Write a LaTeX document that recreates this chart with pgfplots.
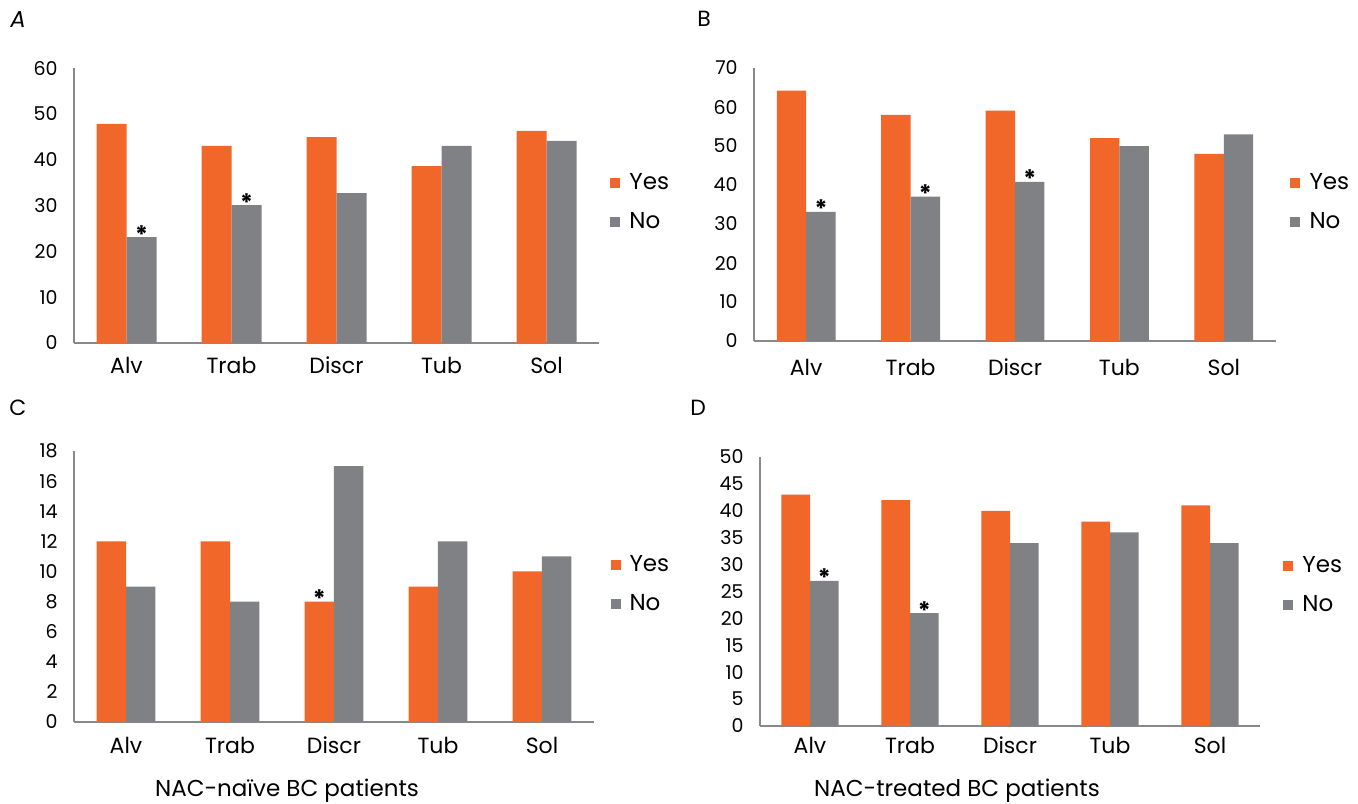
\documentclass[border=0pt]{standalone}
\usepackage{pgfplots}
\pgfplotsset{compat=1.18}
\usepackage{fontspec}
\setmainfont{Poppins}
\definecolor{yesc}{RGB}{241,103,41}
\definecolor{noc}{RGB}{128,129,133}
\definecolor{axc}{RGB}{137,137,140}
\pgfplotsset{
 sq/.style={legend image code/.code={\fill[##1] (0pt,-2.5pt) rectangle (5pt,2.5pt);}},
 panel/.style={
  scale only axis, anchor=south west,
  xmin=-0.5, xmax=4.5, ymin=0,
  axis x line*=bottom, axis y line*=left,
  axis line style={draw=axc, line width=1.2pt, -},
  major tick length=0pt,
  xtick={0,...,4}, xticklabels={Alv,Trab,Discr,Tub,Sol},
  ybar=0pt,
  xticklabel style={font=\fontsize{11}{13}\selectfont, anchor=base, inner sep=0pt},
  yticklabel style={font=\fontsize{9.5}{11}\selectfont, anchor=east, inner sep=0pt, xshift=-8pt},
  /pgf/number format/assume math mode=true,
  legend style={draw=none, fill=none, inner sep=0pt, font=\fontsize{11.5}{13}\selectfont, row sep=6pt, anchor=west, legend cell align=left, /tikz/every odd column/.append style={column sep=2.5pt}},
  nodes near coords, point meta=explicit symbolic,
  every node near coord/.append style={font=\fontsize{12}{14}\selectfont\bfseries, anchor=base, inner sep=0pt, yshift=-3pt, text=black},
  clip=false,
 },
}
\begin{document}
\begin{tikzpicture}
\path[use as bounding box] (0pt,0pt) rectangle (679pt,-401.5pt);
% Panel A
\begin{axis}[panel, at={(37pt,-171.5pt)}, width=262.5pt, height=137.5pt,
  ymax=60, ytick distance=10, bar width=15pt,
  xticklabel style={yshift=-15pt},
  legend style={at={(1.021,0.511)}}]
\addplot[fill=yesc, draw=none, sq] coordinates {(0,47.8)[] (1,43.0)[] (2,44.9)[] (3,38.6)[] (4,46.3)[]};
\addplot[fill=noc, draw=none, sq] coordinates {(0,23.1)[*] (1,30.1)[*] (2,32.7)[] (3,43.0)[] (4,44.1)[]};
\legend{Yes,No}
\end{axis}
% Panel B
\begin{axis}[panel, at={(377pt,-170.5pt)}, width=261pt, height=136.5pt,
  ymax=70, ytick distance=10, bar width=14.7pt,
  xticklabel style={yshift=-17pt},
  legend style={at={(1.027,0.509)}}]
\addplot[fill=yesc, draw=none, sq] coordinates {(0,64.2)[] (1,58.0)[] (2,59.1)[] (3,52.0)[] (4,48.0)[]};
\addplot[fill=noc, draw=none, sq] coordinates {(0,33.1)[*] (1,37.0)[*] (2,40.8)[*] (3,50.0)[] (4,53.0)[]};
\legend{Yes,No}
\end{axis}
% Panel C
\begin{axis}[panel, at={(37pt,-361pt)}, width=260pt, height=135.5pt,
  ymax=18, ytick distance=2, bar width=14.7pt,
  xticklabel style={yshift=-15.5pt},
  legend style={at={(1.031,0.509)}}]
\addplot[fill=yesc, draw=none, sq] coordinates {(0,12)[] (1,12)[] (2,8)[*] (3,9)[] (4,10)[]};
\addplot[fill=noc, draw=none, sq] coordinates {(0,9)[] (1,8)[] (2,17)[] (3,12)[] (4,11)[]};
\legend{Yes,No}
\end{axis}
% Panel D
\begin{axis}[panel, at={(380pt,-363pt)}, width=250pt, height=134.5pt,
  ymax=50, ytick distance=5, bar width=14.3pt,
  xticklabel style={yshift=-13.5pt},
  legend style={at={(1.046,0.524)}}]
\addplot[fill=yesc, draw=none, sq] coordinates {(0,43)[] (1,42)[] (2,40)[] (3,38)[] (4,41)[]};
\addplot[fill=noc, draw=none, sq] coordinates {(0,27)[*] (1,21)[*] (2,34)[] (3,36)[] (4,34)[]};
\legend{Yes,No}
\end{axis}
% panel letters and titles
\node[anchor=base west, inner sep=0pt, font=\fontsize{11.5}{13}\selectfont\itshape] at (5pt,-13.5pt) {A};
\node[anchor=base west, inner sep=0pt, font=\fontsize{11}{13}\selectfont] at (348.5pt,-13pt) {B};
\node[anchor=base west, inner sep=0pt, font=\fontsize{11}{13}\selectfont] at (4.5pt,-207.5pt) {C};
\node[anchor=base west, inner sep=0pt, font=\fontsize{11}{13}\selectfont] at (345pt,-207.5pt) {D};
\node[anchor=base, inner sep=0pt, font=\fontsize{11.5}{13}\selectfont] at (143.5pt,-398pt) {NAC-naïve BC patients};
\node[anchor=base, inner sep=0pt, font=\fontsize{11.5}{13}\selectfont] at (478.5pt,-398pt) {NAC-treated BC patients};
\end{tikzpicture}
\end{document}
